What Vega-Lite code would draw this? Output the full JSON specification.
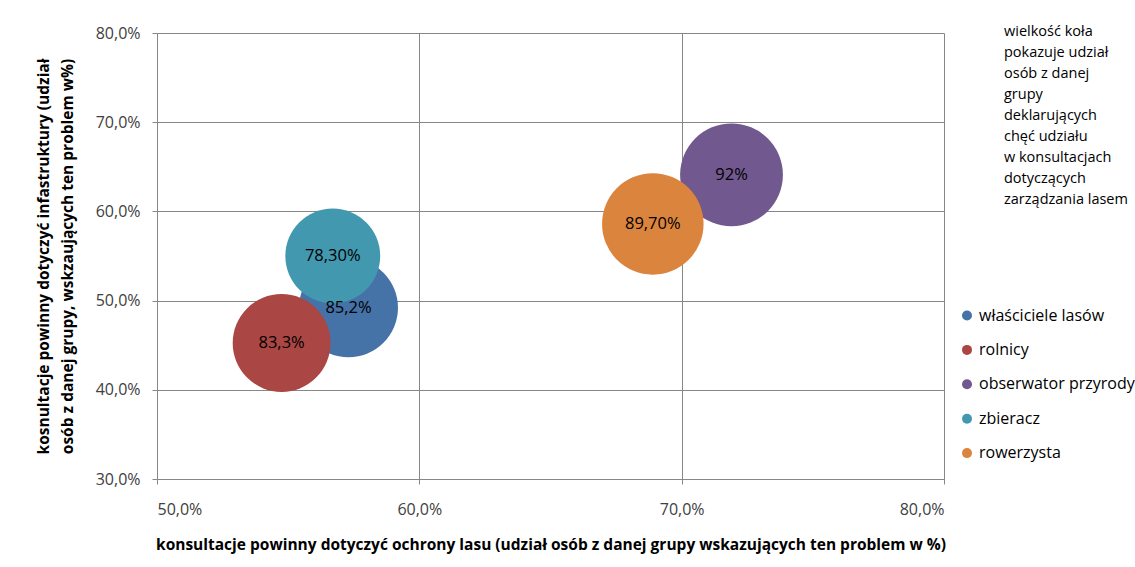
{
  "$schema": "https://vega.github.io/schema/vega-lite/v6.json",
  "autosize": "none",
  "padding": {"left": 157, "top": 33, "right": 191, "bottom": 88},
  "width": 787,
  "height": 446,
  "background": "white",
  "config": {
    "font": "Open Sans",
    "view": {"stroke": null},
    "axis": {
      "grid": true,
      "gridColor": "#878787",
      "gridOpacity": 1,
      "domainColor": "#878787",
      "tickColor": "#878787",
      "tickSize": 5,
      "labelColor": "#404040",
      "labelFontSize": 16,
      "labelFont": "Open Sans",
      "titleFont": "Open Sans",
      "titleFontSize": 15.5,
      "titleFontWeight": "bold",
      "titleColor": "#000000"
    }
  },
  "data": {
    "values": [
      {"grupa": "właściciele lasów", "ochrona": 57.3, "infrastruktura": 49.2, "udzial": 85.2, "etykieta": "85,2%"},
      {"grupa": "rolnicy", "ochrona": 54.75, "infrastruktura": 45.25, "udzial": 83.3, "etykieta": "83,3%"},
      {"grupa": "obserwator przyrody", "ochrona": 71.9, "infrastruktura": 64.1, "udzial": 92, "etykieta": "92%"},
      {"grupa": "zbieracz", "ochrona": 56.7, "infrastruktura": 55.0, "udzial": 78.3, "etykieta": "78,30%"},
      {"grupa": "rowerzysta", "ochrona": 68.9, "infrastruktura": 58.6, "udzial": 89.7, "etykieta": "89,70%"}
    ]
  },
  "encoding": {
    "x": {
      "field": "ochrona",
      "type": "quantitative",
      "scale": {"domain": [50, 80], "nice": false, "zero": false},
      "axis": {
        "values": [50, 60, 70, 80],
        "labelExpr": "replace(format(datum.value, '.1f'), '.', ',') + '%'",
        "labelPadding": 17,
        "titlePadding": 20,
        "title": "konsultacje powinny dotyczyć ochrony lasu (udział osób z danej grupy wskazujących  ten problem w %)"
      }
    },
    "y": {
      "field": "infrastruktura",
      "type": "quantitative",
      "scale": {"domain": [30, 80], "nice": false, "zero": false},
      "axis": {
        "values": [30, 40, 50, 60, 70, 80],
        "labelExpr": "replace(format(datum.value, '.1f'), '.', ',') + '%'",
        "labelPadding": 12,
        "titlePadding": 20,
        "titleLineHeight": 24,
        "title": ["kosnultacje powinny dotyczyć infastruktury (udział", "osób z danej grupy, wskzaujących  ten problem w%)"]
      }
    }
  },
  "layer": [
    {
      "mark": {"type": "circle", "opacity": 1, "strokeWidth": 0},
      "encoding": {
        "size": {
          "field": "udzial",
          "type": "quantitative",
          "scale": {"domain": [0, 92], "range": [0, 10568], "zero": true},
          "legend": null
        },
        "color": {
          "field": "grupa",
          "type": "nominal",
          "scale": {
            "domain": ["właściciele lasów", "rolnicy", "obserwator przyrody", "zbieracz", "rowerzysta"],
            "range": ["#4572A7", "#AA4643", "#71588F", "#4198AF", "#DB843D"]
          },
          "legend": {
            "orient": "right",
            "offset": 57,
            "padding": 3,
            "symbolOffset": -45,
            "symbolSize": 100,
            "symbolType": "circle",
            "labelOffset": 4,
            "labelFontSize": 16,
            "labelColor": "#000000",
            "labelFont": "Open Sans",
            "rowPadding": 18.4,
            "labelLimit": 300,
            "title": ["wielkość koła", " pokazuje udział", "osób z danej", "grupy", "deklarujących", " chęć udziału", "w konsultacjach", "dotyczących", "zarządzania lasem"],
            "titleFont": "Open Sans",
            "titleFontSize": 14.5,
            "titleFontWeight": "normal",
            "titleColor": "#000000",
            "titleLineHeight": 21,
            "titleBaseline": "alphabetic",
            "titleAnchor": "start",
            "titleAlign": "left",
            "titlePadding": 89,
            "titleLimit": 400
          }
        }
      }
    },
    {
      "mark": {"type": "text", "fontSize": 16.5, "color": "#000000", "font": "Open Sans", "align": "center", "baseline": "middle"},
      "encoding": {
        "text": {"field": "etykieta", "type": "nominal"}
      }
    }
  ]
}
